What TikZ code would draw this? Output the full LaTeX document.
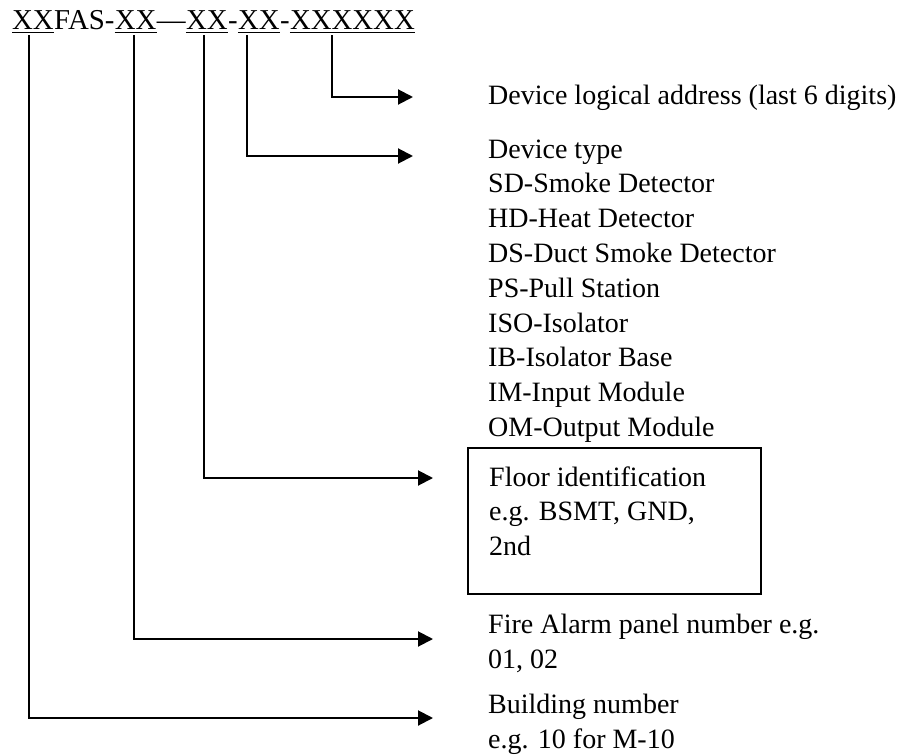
\documentclass[tikz,border=0pt]{standalone}
\usepackage{fontspec}
\setmainfont{Liberation Serif}
\usetikzlibrary{arrows.meta,positioning}

\begin{document}
\begin{tikzpicture}[
    x=1pt, y=-1pt,
    part/.style={inner sep=0pt, anchor=base west, font=\fontsize{28.8}{34}\selectfont},
    lbl/.style={inner sep=0pt, anchor=base west, align=left, font=\fontsize{28}{34.8}\selectfont},
    frame/.style={draw=black, line width=1.6pt, anchor=north west, minimum width=293pt, minimum height=146pt},
    uline/.style={line width=1.6pt},
    lead/.style={-{Triangle[length=15pt, width=15pt]}, line width=2pt, shorten <=6pt}
]
\useasboundingbox (0,0) rectangle (903,755);

\node[part] (bld) at (12,29) {XX};
\node[part] (fas) at (bld.base east) {FAS-};
\node[part] (pnl) at (fas.base east) {XX};
\node[part] (dash) at (pnl.base east) {---};
\node[part] (flr) at (dash.base east) {XX};
\node[part] (h1) at (flr.base east) {-};
\node[part] (typ) at (h1.base east) {XX};
\node[part] (h2) at (typ.base east) {-};
\node[part] (adr) at (h2.base east) {XXXXXX};

\foreach \p in {bld,pnl,flr,typ,adr}
    \draw[uline] ([yshift=-3.5pt]\p.base west) -- ([yshift=-3.5pt]\p.base east);

\node[lbl] (l-addr) at (488,104) {Device logical address (last 6 digits)};
\node[lbl] (l-type) at (488,436.4) {Device type\\SD-Smoke Detector\\HD-Heat Detector\\DS-Duct Smoke Detector\\PS-Pull Station\\ISO-Isolator\\IB-Isolator Base\\IM-Input Module\\OM-Output Module};
\node[frame] (floorbox) at (467,447) {};
\node[lbl] (l-floor) at (489,555.6) {Floor identification\\e.g. BSMT, GND,\\2nd};
\node[lbl] (l-panel) at (488,668) {Fire Alarm panel number e.g.\\01, 02};
\node[lbl] (l-bldg) at (488,748) {Building number\\e.g. 10 for M-10};

\coordinate (tip-addr) at (413,97);
\coordinate (tip-type) at (413,156);
\coordinate (tip-floor) at (433,478);
\coordinate (tip-panel) at (433,639);
\coordinate (tip-bldg) at (433,718);

\draw[lead] ([xshift=-20.6pt]adr.base) |- (tip-addr);
\draw[lead] ([xshift=-12pt]typ.base) |- (tip-type);
\draw[lead] ([xshift=-3pt]flr.base) |- (tip-floor);
\draw[lead] ([xshift=-2pt]pnl.base) |- (tip-panel);
\draw[lead] ([xshift=-3.5pt]bld.base) |- (tip-bldg);
\end{tikzpicture}
\end{document}
